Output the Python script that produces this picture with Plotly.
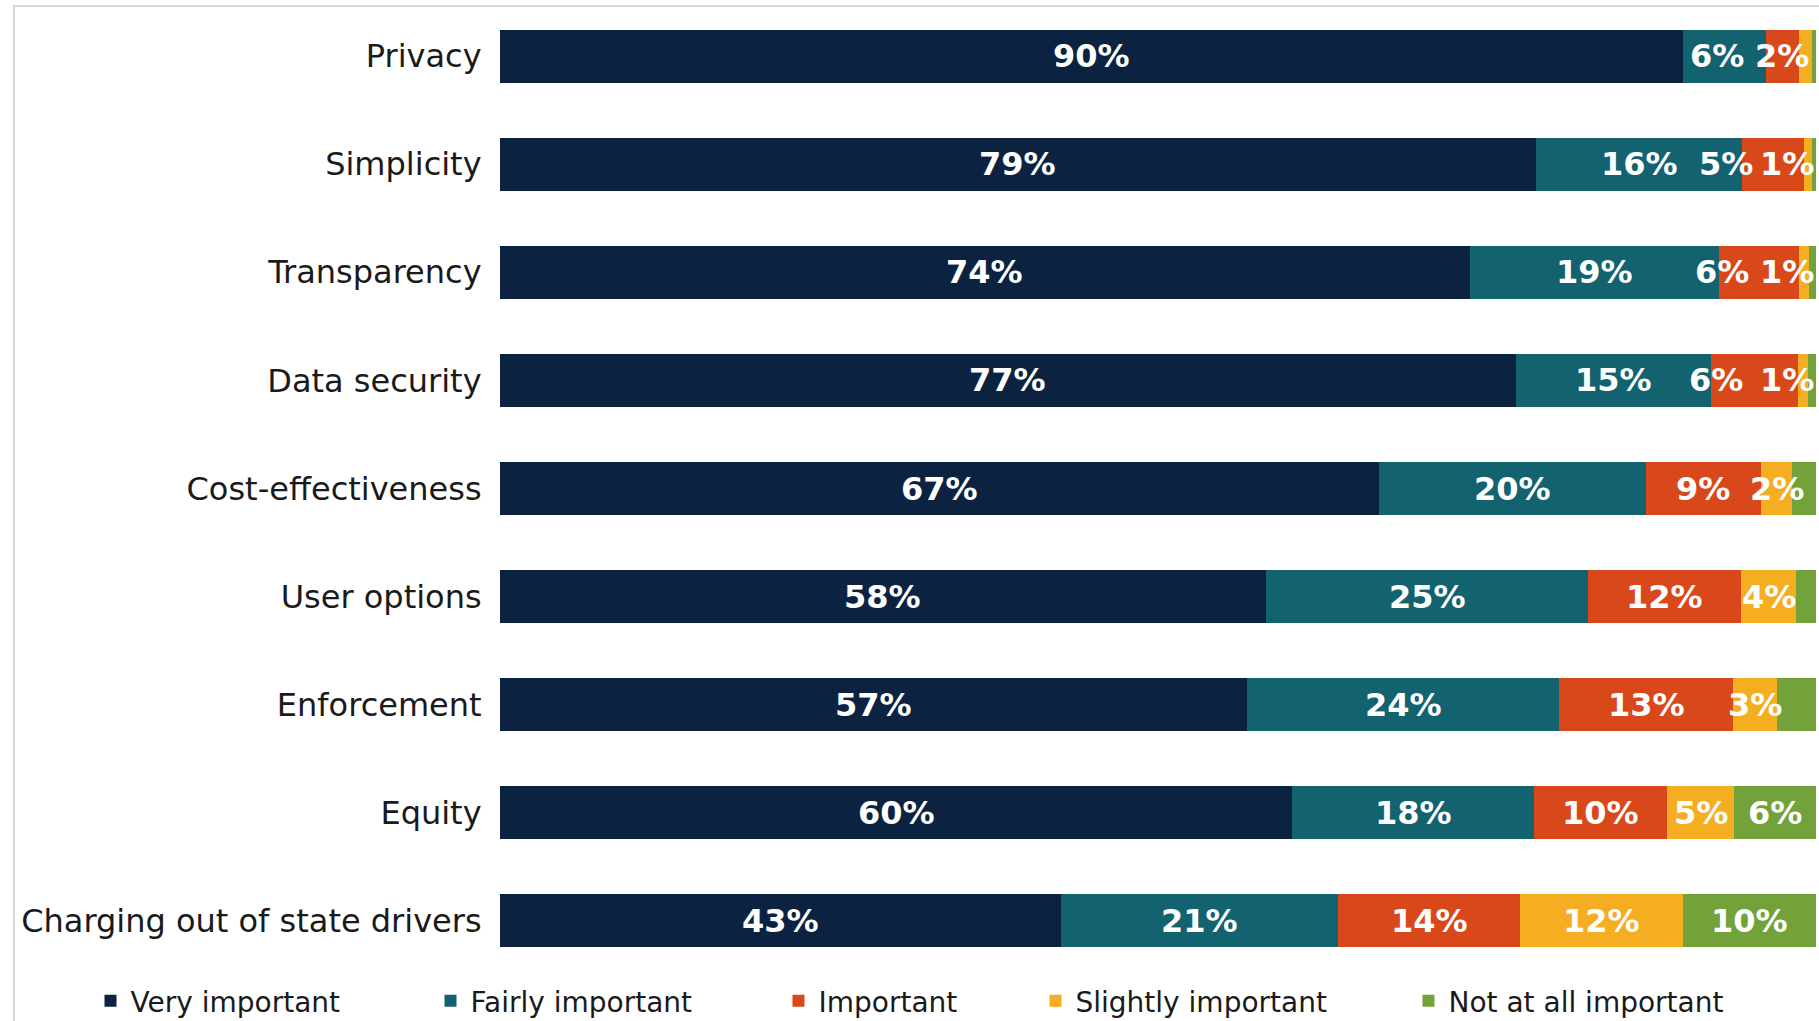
import plotly.graph_objects as go

categories = ["Privacy", "Simplicity", "Transparency", "Data security",
              "Cost-effectiveness", "User options", "Enforcement", "Equity",
              "Charging out of state drivers"]
series_names = ["Very important", "Fairly important", "Important",
                "Slightly important", "Not at all important"]

very_important = [89.9, 78.7, 73.7, 77.2, 66.8, 58.2, 56.8, 60.2, 42.6]
fairly_important = [6.3, 15.7, 18.9, 14.8, 20.3, 24.5, 23.7, 18.4, 21.1]
important = [2.5, 4.7, 6.1, 6.6, 8.7, 11.6, 13.2, 10.1, 13.8]
slightly_important = [1.0, 0.6, 0.8, 0.8, 2.4, 4.2, 3.3, 5.1, 12.4]
not_at_all = [0.3, 0.3, 0.5, 0.6, 1.8, 1.5, 3.0, 6.2, 10.1]

labels_very = ["90%", "79%", "74%", "77%", "67%", "58%", "57%", "60%", "43%"]
labels_fairly = ["6%", "16%", "19%", "15%", "20%", "25%", "24%", "18%", "21%"]
labels_imp = ["2%", "5%", "6%", "6%", "9%", "12%", "13%", "10%", "14%"]
labels_slight = ["", "1%", "1%", "1%", "2%", "4%", "3%", "5%", "12%"]
labels_not = ["", "", "", "", "", "", "", "6%", "10%"]

colors = ["#0b2341", "#136270", "#d9481a", "#f5ae22", "#73a23a"]

values = [very_important, fairly_important, important, slightly_important, not_at_all]
labels = [labels_very, labels_fairly, labels_imp, labels_slight, labels_not]

# manual label nudges (in axis percent units) as placed in the original
nudges = {(0, 1): -0.6,
          (1, 2): -3.6, (1, 3): -1.6,
          (2, 2): -2.8, (2, 3): -1.3,
          (3, 2): -2.9, (3, 3): -1.2}

legend_x_px = [107, 447, 795, 1052, 1425]
W, H = 1819, 1021

fig = go.Figure()
for s in range(5):
    lname = "legend" if s == 0 else f"legend{s+1}"
    fig.add_trace(go.Bar(
        y=categories, x=values[s], name=series_names[s], orientation="h",
        marker=dict(color=colors[s], line=dict(width=0)),
        legend=lname, showlegend=True, hoverinfo="x+y+name"))

annotations = []
for i, cat in enumerate(categories):
    start = 0.0
    for s in range(5):
        v = values[s][i]
        t = labels[s][i]
        if t:
            annotations.append(dict(
                x=start + v / 2 + nudges.get((i, s), 0.0), y=cat,
                xref="x", yref="y", text=t, showarrow=False,
                font=dict(family="DejaVu Sans", size=32, color="white", weight="bold"),
                xanchor="center", yanchor="middle"))
        start += v

layout_legends = {}
for s in range(5):
    key = "legend" if s == 0 else f"legend{s+1}"
    layout_legends[key] = dict(
        xref="container", yref="container",
        x=(legend_x_px[s] - 16.5) / W, y=1 - 1001 / H,
        xanchor="left", yanchor="middle", orientation="h",
        font=dict(family="DejaVu Sans", size=28, color="#1a1a1a"),
        bgcolor="rgba(0,0,0,0)", itemclick=False, itemdoubleclick=False)

ml, mr, mt, mb = 500, 3, 2, 46
pw = W - ml - mr
ph = H - mt - mb

fig.update_layout(
    width=W, height=H,
    barmode="stack", bargap=0.51,
    margin=dict(l=ml, r=mr, t=mt, b=mb),
    plot_bgcolor="white", paper_bgcolor="white",
    showlegend=True,
    annotations=annotations,
    xaxis=dict(range=[0, 100], showticklabels=False, tickvals=[0],
               showgrid=True, gridcolor="#c8c8c8", griddash="dash", gridwidth=1.5,
               zeroline=False, showline=False, fixedrange=True),
    yaxis=dict(autorange="reversed", categoryorder="array", categoryarray=categories,
               tickfont=dict(family="DejaVu Sans", size=32, color="#1a1a1a"),
               ticks="outside", ticklen=11, tickcolor="rgba(0,0,0,0)",
               showgrid=False, zeroline=False, showline=False, fixedrange=True),
    shapes=[dict(type="rect", xref="paper", yref="paper",
                 x0=(14 - ml) / pw, x1=1.05, y0=-0.3, y1=(mt + ph - 6) / ph,
                 line=dict(color="#cccccc", width=1.5), layer="below")],
    **layout_legends,
)

fig.write_html("out.html")
